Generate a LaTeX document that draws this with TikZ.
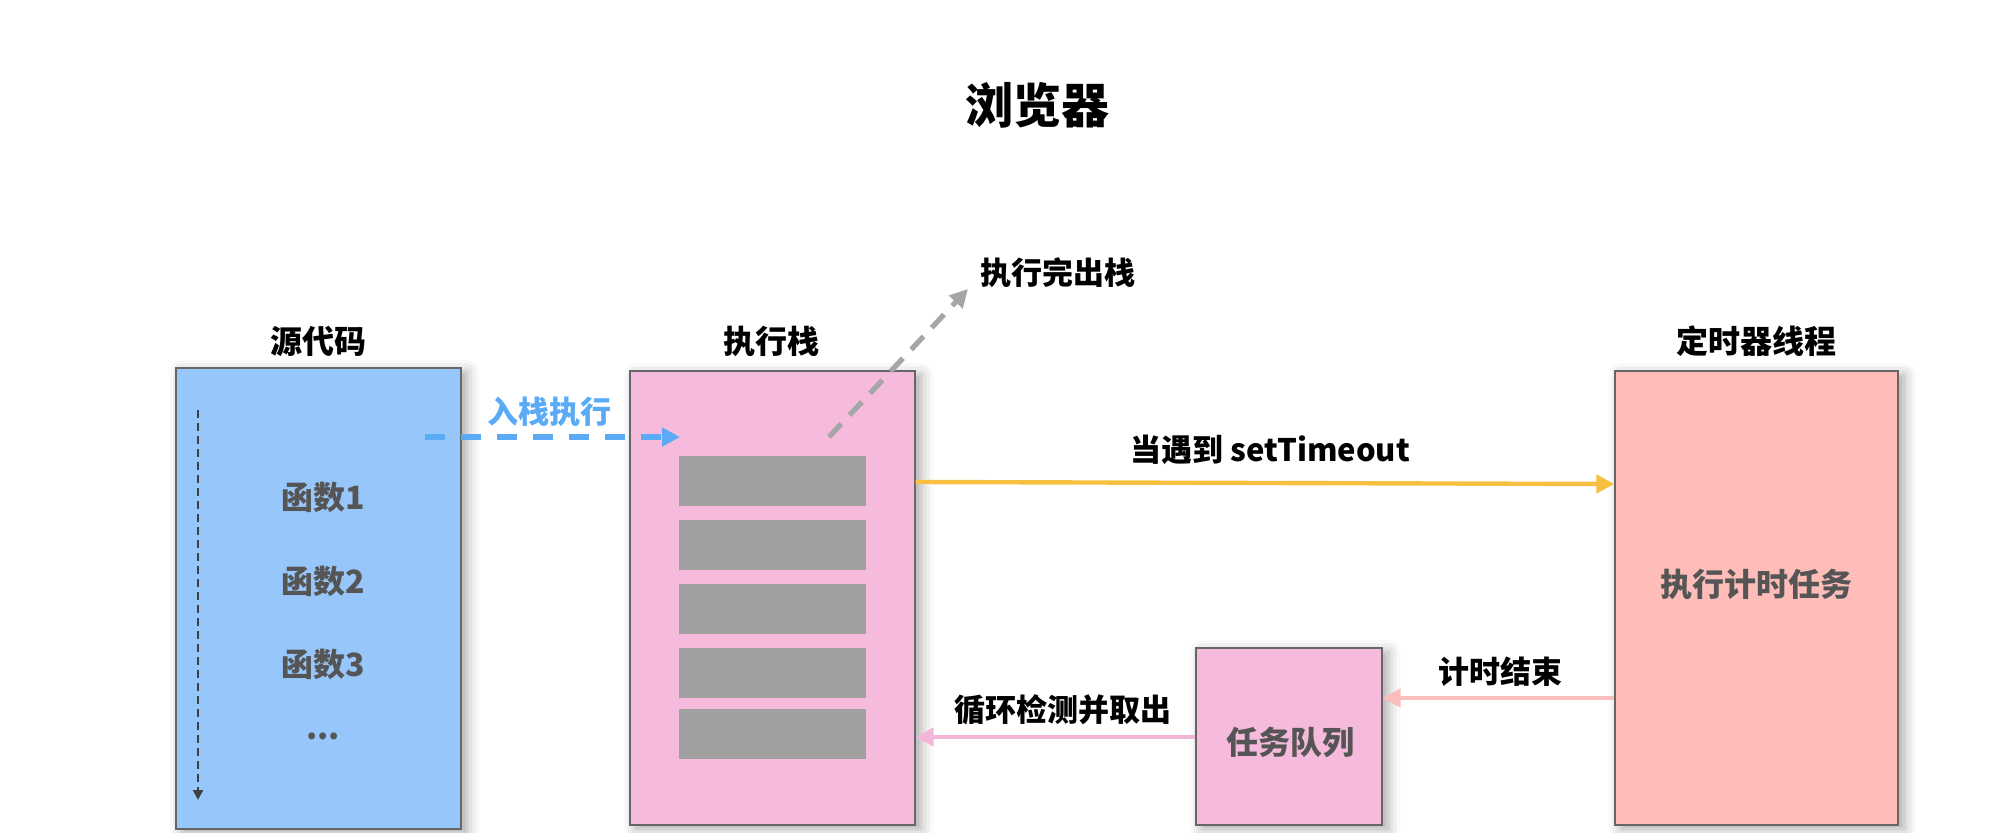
\documentclass[tikz,border=0pt]{standalone}
\usepackage{fontspec}
\setmainfont{Noto Sans CJK SC}
\usetikzlibrary{arrows.meta,shadows.blur}
\definecolor{srcblue}{HTML}{96C6FA}
\definecolor{stackpink}{HTML}{F6BADC}
\definecolor{timerpink}{HTML}{FEBDB9}
\definecolor{bargray}{HTML}{A0A0A0}
\definecolor{boxtext}{HTML}{555555}
\definecolor{arrblue}{HTML}{5AAAF6}
\definecolor{arrgray}{HTML}{A6A6A6}
\definecolor{arryellow}{HTML}{F8C040}
\definecolor{arrsalmon}{HTML}{FBBDBA}
\definecolor{arrpink}{HTML}{F4B6D8}
\begin{document}
\begin{tikzpicture}[x=0.5pt,y=-0.5pt,
  panel/.style={draw=black!60,line width=0.6pt,inner sep=0pt,
    blur shadow={shadow xshift=3pt,shadow yshift=-2pt,shadow blur radius=6pt,shadow opacity=35}},
  bar/.style={fill=bargray,inner sep=0pt,minimum width=93.5pt,minimum height=25pt},
  boxlabel/.style={font=\fontsize{16}{18}\selectfont\bfseries,text=boxtext},
  head/.style={font=\fontsize{16}{18}\selectfont\bfseries,text=black},
  lbl/.style={font=\fontsize{15.5}{18}\selectfont\bfseries,text=black},
  tip/.style={-{Triangle[length=9pt,width=9pt]}}]
\useasboundingbox (0,0) rectangle (2000,833);
% title
\node[font=\fontsize{24}{28}\selectfont\bfseries] (title) at (1037,105) {浏览器};
% panels
\node[panel,fill=srcblue,minimum width=142.5pt,minimum height=230.5pt] (src) at (318.5,598.5) {};
\node[panel,fill=stackpink,minimum width=142.5pt,minimum height=227pt] (stack) at (772.5,598) {};
\node[panel,fill=timerpink,minimum width=141.5pt,minimum height=227pt] (timer) at (1756.5,598) {};
\node[panel,fill=stackpink,minimum width=93pt,minimum height=88.5pt] (queue) at (1289,736.5) {};
% headings
\node[head] (srch) at (318,341) {源代码};
\node[head] (stackh) at (771,341) {执行栈};
\node[head] (timerh) at (1756,341) {定时器线程};
% source contents
\node[boxlabel] (f1) at (323,497) {函数1};
\node[boxlabel] (f2) at (323,581) {函数2};
\node[boxlabel] (f3) at (323,664) {函数3};
\node[boxlabel] (fd) at (323,736) {...};
\coordinate (vs) at (198,410);
\coordinate (ve) at (198,800);
\draw[black!75,line width=1.1pt,dash pattern=on 4pt off 2.5pt,-{Triangle[length=5pt,width=5pt]}] (vs) -- (ve);
% stack bars
\node[bar] (b1) at (772.5,481) {};
\node[bar] (b2) at (772.5,544.5) {};
\node[bar] (b3) at (772.5,608.5) {};
\node[bar] (b4) at (772.5,672.5) {};
\node[bar] (b5) at (772.5,734) {};
% box texts
\node[boxlabel] (tt) at (1756,584) {执行计时任务};
\node[boxlabel] (qt) at (1290,742) {任务队列};
% push arrow
\coordinate (ps) at (425,437);
\coordinate (pe) at (680,437);
\draw[arrblue,line width=2.6pt,dash pattern=on 10pt off 8pt,tip] (ps) -- (pe);
\node[font=\fontsize{15.5}{18}\selectfont\bfseries,text=arrblue] (pl) at (549,412) {入栈执行};
% pop arrow
\coordinate (os) at (829,437);
\coordinate (oe) at (968,289);
\draw[arrgray,line width=2.6pt,dash pattern=on 9pt off 6pt,tip] (os) -- (oe);
\node[lbl] (ol) at (1058,273) {执行完出栈};
% setTimeout arrow
\draw[arryellow,line width=2.2pt,tip] (stack.east |- 0,482) -- (timer.west |- 0,484);
\node[lbl] (sl) at (1270,450) {当遇到 setTimeout};
% timer end arrow
\draw[arrsalmon,line width=2.2pt,tip] (timer.west |- 0,698) -- (queue.east |- 0,698);
\node[lbl] (el) at (1500,672) {计时结束};
% loop arrow
\draw[arrpink,line width=2.2pt,tip] (queue.west |- 0,737) -- (stack.east |- 0,737);
\node[lbl] (ll) at (1063,710) {循环检测并取出};
\end{tikzpicture}
\end{document}
